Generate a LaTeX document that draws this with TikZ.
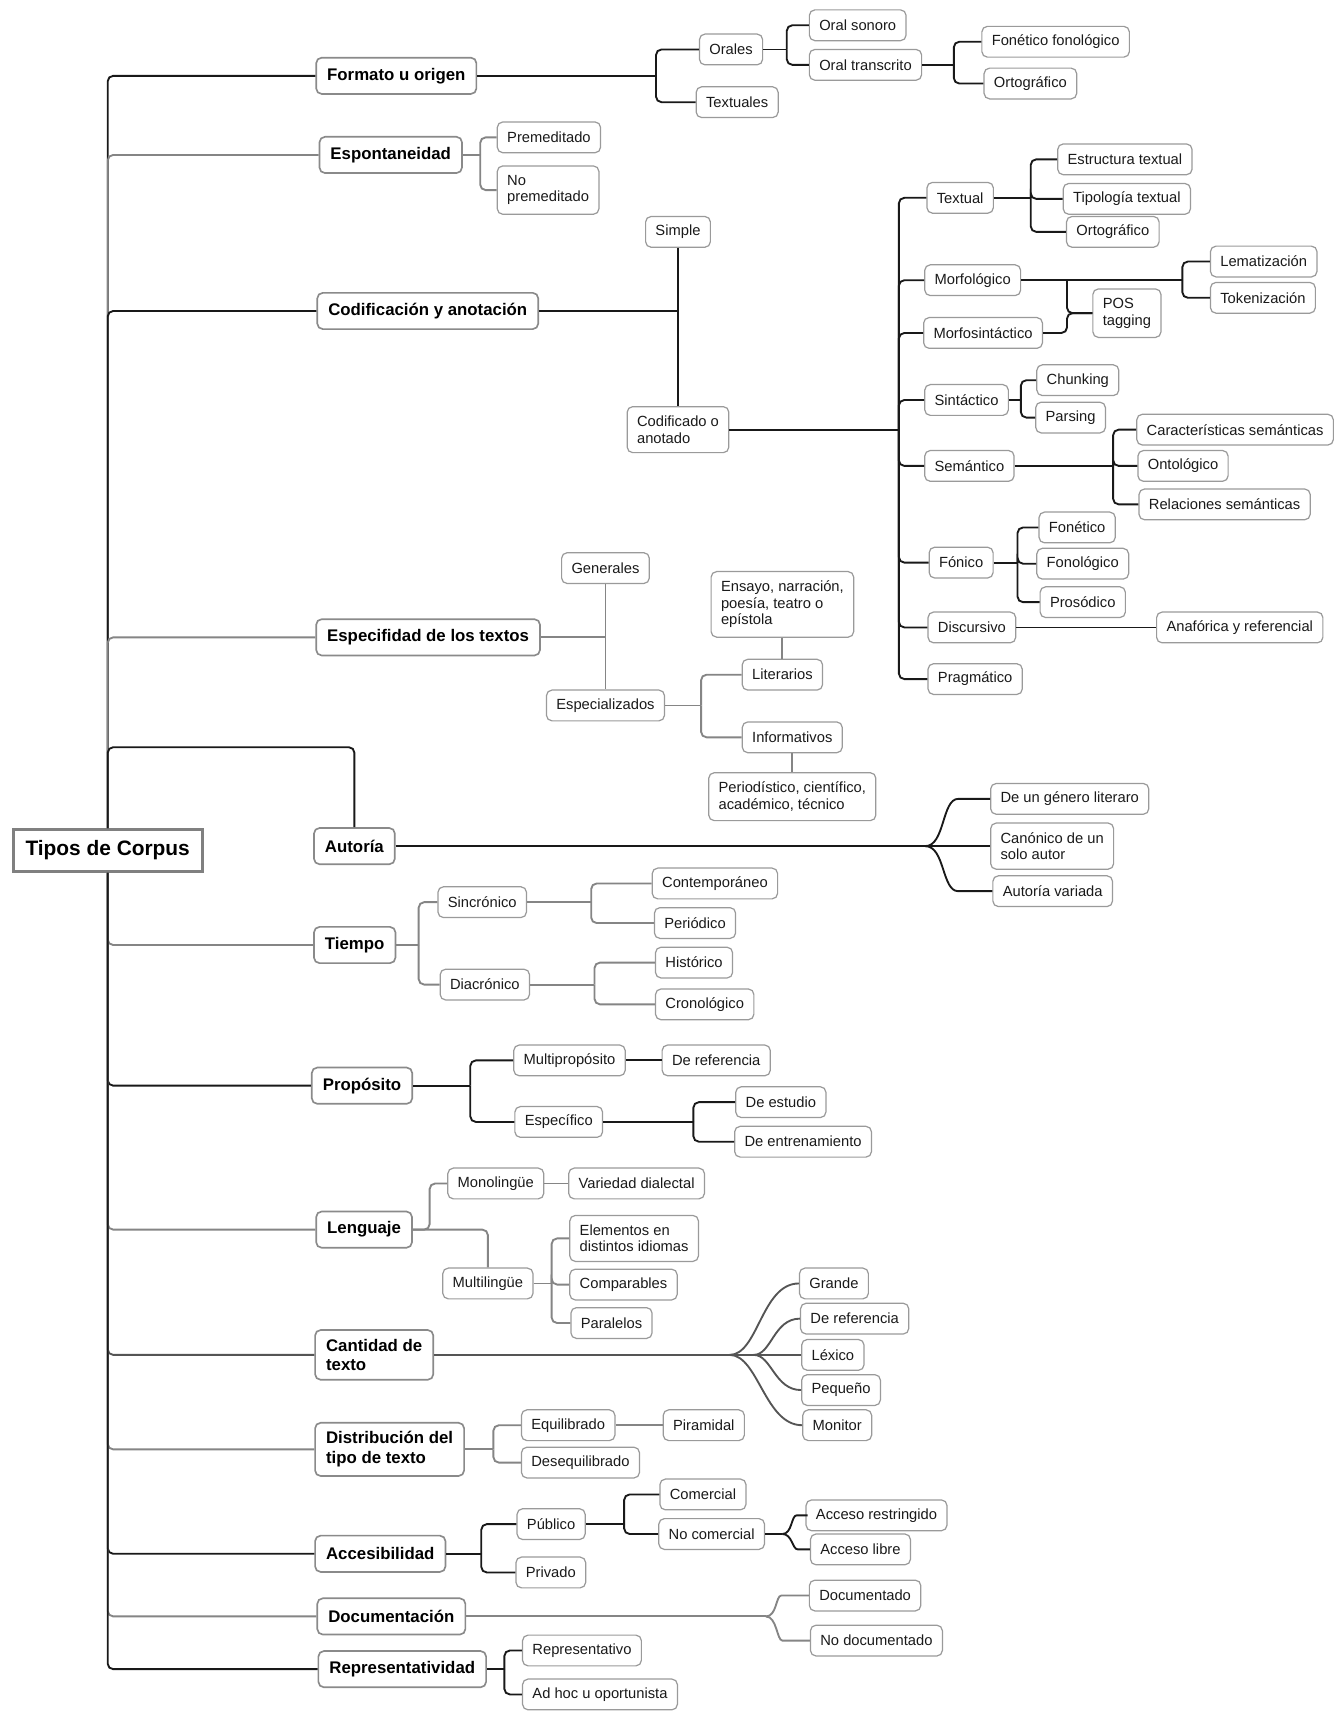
\documentclass[tikz,border=0pt]{standalone}
\usepackage{fontspec}
\setmainfont{Liberation Sans}
\usetikzlibrary{calc}
\definecolor{bx}{HTML}{9A9A9A}
\definecolor{bxm}{HTML}{8A8A8A}
\definecolor{gl}{HTML}{858585}
\definecolor{dg}{HTML}{555555}
\definecolor{tx}{HTML}{1A1A1A}
\tikzset{
 leaf/.style={draw=bx, line width=1.1pt, rounded corners=5pt, fill=white, text=tx,
   font=\fontsize{13.4}{15}\selectfont, inner xsep=9pt, inner ysep=6pt, minimum height=28pt,
   align=left, anchor=west},
 ml/.style={inner ysep=8.5pt},
 mainn/.style={draw=bxm, line width=1.5pt, rounded corners=5pt, fill=white, text=black,
   font=\bfseries\fontsize{15.3}{18}\selectfont, inner xsep=10pt, inner ysep=7pt,
   minimum height=33pt, align=left, anchor=west},
 rootn/.style={draw=gray, line width=2.6pt, fill=white, text=black,
   font=\bfseries\fontsize{19}{22}\selectfont, minimum width=172pt, minimum height=38pt},
 blk/.style={draw=black!90, line width=1.7pt, rounded corners=5pt},
 gry/.style={draw=gl, line width=1.7pt, rounded corners=5pt},
 dgy/.style={draw=dg, line width=1.7pt, rounded corners=5pt},
}
\newcommand{\fk}[4]{%
  \coordinate (tmpf) at (#3,0);
  \draw[#1] (#2.east) -- (#2.east -| tmpf);
  \foreach \kid in {#4}{\draw[#1] (#2.east -| tmpf) |- (\kid.west);}
}
\begin{document}
\begin{tikzpicture}[x=1pt,y=-1pt]
\fill[white] (0,0) rectangle (1223,1568);
\useasboundingbox (0,0) rectangle (1223,1568);

% root and main nodes
\node[rootn] (root) at (98,774) {Tipos de Corpus};
\node[mainn] (form) at (287,69) {Formato u origen};
\node[mainn] (espo) at (290,141) {Espontaneidad};
\node[mainn] (codi) at (288,283) {Codificación y anotación};
\node[mainn] (espe) at (287,580) {Especifidad de los textos};
\node[mainn] (auto) at (285,770) {Autoría};
\node[mainn] (tiem) at (285,860) {Tiempo};
\node[mainn] (prop) at (283,988) {Propósito};
\node[mainn] (leng) at (287,1119) {Lenguaje};
\node[mainn, inner ysep=8pt] (cant) at (286,1233) {Cantidad de\\texto};
\node[mainn, inner ysep=8pt] (dist) at (286,1319) {Distribución del\\tipo de texto};
\node[mainn] (acce) at (286,1414) {Accesibilidad};
\node[mainn] (docu) at (288,1471) {Documentación};
\node[mainn] (repr) at (289,1519) {Representatividad};

% trunk connectors
\coordinate (autop) at (0,680);
\draw[blk] (root.north) |- (form.west);
\draw[gry] (root.north) |- (espo.west);
\draw[blk] (root.north) |- (codi.west);
\draw[gry] (root.north) |- (espe.west);
\draw[blk] (root.north) -- (root.north |- autop) -| (auto.north);
\draw[gry] (root.south) |- (tiem.west);
\draw[blk] (root.south) |- (prop.west);
\draw[gry] (root.south) |- (leng.west);
\draw[dgy] (root.south) |- (cant.west);
\draw[gry] (root.south) |- (dist.west);
\draw[blk] (root.south) |- (acce.west);
\draw[gry] (root.south) |- (docu.west);
\draw[blk] (root.south) |- (repr.west);

% Formato
\node[leaf] (oral) at (636,45) {Orales};
\node[leaf] (text) at (633,93) {Textuales};
\node[leaf] (osono) at (736,23) {Oral sonoro};
\node[leaf] (otran) at (736,59) {Oral transcrito};
\node[leaf] (fono) at (893,38) {Fonético fonológico};
\node[leaf] (orto1) at (895,76) {Ortográfico};
\fk{blk}{form}{597}{oral,text}
\fk{blk}{oral}{716}{osono,otran}
\fk{blk}{otran}{868}{fono,orto1}

% Espontaneidad
\node[leaf] (preme) at (452,125) {Premeditado};
\node[leaf,ml] (nopre) at (452,173) {No\\premeditado};
\fk{gry}{espo}{437}{preme,nopre}

% Codificacion
\node[leaf, anchor=center] (simp) at (617,211) {Simple};
\node[leaf, ml, anchor=center] (coda) at (617,391) {Codificado o\\anotado};
\draw[blk] (codi.east) -- (codi.east -| simp.south);
\draw[blk] (simp.south) -- (coda.north);

\node[leaf] (txtl) at (843,180) {Textual};
\node[leaf] (morf) at (841,255) {Morfológico};
\node[leaf] (msin) at (840,303) {Morfosintáctico};
\node[leaf] (sint) at (841,364) {Sintáctico};
\node[leaf] (sema) at (841,424) {Semántico};
\node[leaf] (foni) at (845,512) {Fónico};
\node[leaf] (disc) at (844,571) {Discursivo};
\node[leaf] (prag) at (844,618) {Pragmático};
\fk{blk}{coda}{818}{txtl,morf,msin,sint,sema,foni,disc,prag}

\node[leaf] (estr) at (962,145) {Estructura textual};
\node[leaf] (tipo) at (967,181) {Tipología textual};
\node[leaf] (orto2) at (970,211) {Ortográfico};
\fk{blk}{txtl}{938}{estr,tipo,orto2}

\node[leaf] (lema) at (1101,238) {Lematización};
\node[leaf] (toke) at (1101,271) {Tokenización};
\node[leaf,ml] (post) at (994,285) {POS\\tagging};
\fk{blk}{morf}{1076}{lema,toke}
\coordinate (pfk) at (971,0);
\draw[blk] (morf.east -| pfk) |- (post.west);
\draw[blk] (msin.east) -- (msin.east -| pfk) |- (post.west);

\node[leaf] (chun) at (943,346) {Chunking};
\node[leaf] (pars) at (942,380) {Parsing};
\fk{blk}{sint}{929}{chun,pars}

\node[leaf] (cara) at (1034,391) {Características semánticas};
\node[leaf] (onto) at (1035,424) {Ontológico};
\node[leaf] (rela) at (1036,459) {Relaciones semánticas};
\fk{blk}{sema}{1013}{cara,onto,rela}

\node[leaf] (fnt) at (945,480) {Fonético};
\node[leaf] (fnl) at (943,513) {Fonológico};
\node[leaf] (pros) at (946,548) {Prosódico};
\fk{blk}{foni}{926}{fnt,fnl,pros}

\node[leaf] (anaf) at (1052,571) {Anafórica y referencial};
\draw[blk] (disc.east) -- (anaf.west);

% Especifidad
\node[leaf,anchor=center] (gene) at (551,517) {Generales};
\node[leaf,anchor=center] (espz) at (551,642) {Especializados};
\draw[gry] (espe.east) -- (espe.east -| gene.south);
\draw[gry] (gene.south) -- (espz.north);
\node[leaf,anchor=center] (lite) at (712,614) {Literarios};
\node[leaf,anchor=center] (info) at (721,671) {Informativos};
\node[leaf,ml,anchor=center] (ensa) at (712,550) {Ensayo, narración,\\poesía, teatro o\\epístola};
\node[leaf,ml,anchor=center] (peri) at (721,725) {Periodístico, científico,\\académico, técnico};
\fk{gry}{espz}{638}{lite,info}
\draw[gry] (ensa.south) -- (lite.north);
\draw[gry] (info.south) -- (peri.north);

% Autoria
\node[leaf] (genl) at (901,727) {De un género literaro};
\node[leaf,ml] (cano) at (901,770) {Canónico de un\\solo autor};
\node[leaf] (vari) at (903,811) {Autoría variada};
\coordinate (afk) at (842,0);
\draw[blk] (auto.east) -- (auto.east -| afk);
\draw[blk] (auto.east -| afk) -- (cano.west);
\draw[blk] (auto.east -| afk) .. controls +(18,0) and +(-20,0) .. ([xshift=-24]genl.west) -- (genl.west);
\draw[blk] (auto.east -| afk) .. controls +(18,0) and +(-20,0) .. ([xshift=-26]vari.west) -- (vari.west);

% Tiempo
\node[leaf] (sinc) at (398,821) {Sincrónico};
\node[leaf] (diac) at (400,896) {Diacrónico};
\fk{gry}{tiem}{381}{sinc,diac}
\node[leaf] (cont) at (593,804) {Contemporáneo};
\node[leaf] (peri2) at (595,840) {Periódico};
\fk{gry}{sinc}{538}{cont,peri2}
\node[leaf] (hist) at (596,876) {Histórico};
\node[leaf] (cron) at (596,914) {Cronológico};
\fk{gry}{diac}{541}{hist,cron}

% Proposito
\node[leaf] (mult) at (467,965) {Multipropósito};
\node[leaf] (espc) at (468,1021) {Específico};
\fk{blk}{prop}{428}{mult,espc}
\node[leaf] (dref) at (602,965) {De referencia};
\draw[blk] (mult.east) -- (dref.west);
\node[leaf] (estu) at (669,1003) {De estudio};
\node[leaf] (entr) at (668,1039) {De entrenamiento};
\fk{blk}{espc}{631}{estu,entr}

% Lenguaje
\node[leaf] (mono) at (407,1077) {Monolingüe};
\node[leaf,anchor=center] (mulg) at (444,1168) {Multilingüe};
\node[leaf] (vdia) at (517,1077) {Variedad dialectal};
\coordinate (lfk) at (391,0);
\draw[gry] (leng.east) -- (leng.east -| lfk) |- (mono.west);
\draw[gry] (leng.east) -| (mulg.north);
\draw[gry] (mono.east) -- (vdia.west);
\node[leaf,ml] (elem) at (518,1127) {Elementos en\\distintos idiomas};
\node[leaf] (comp) at (518,1169) {Comparables};
\node[leaf] (para) at (519,1204) {Paralelos};
\fk{gry}{mulg}{502}{elem,comp,para}

% Cantidad
\node[leaf] (gran) at (727,1168) {Grande};
\node[leaf] (dre2) at (728,1200) {De referencia};
\node[leaf] (lexi) at (729,1233) {Léxico};
\node[leaf] (pequ) at (729,1265) {Pequeño};
\node[leaf] (moni) at (730,1297) {Monitor};
\coordinate (cfa) at (664,0);
\coordinate (cfb) at (686,0);
\draw[dgy] (cant.east) -- (lexi.west);
\draw[dgy] (cant.east -| cfa) .. controls +(26,0) and +(-34,0) .. (gran.west);
\draw[dgy] (cant.east -| cfa) .. controls +(26,0) and +(-34,0) .. (moni.west);
\draw[dgy] (cant.east -| cfb) .. controls +(16,0) and +(-24,0) .. (dre2.west);
\draw[dgy] (cant.east -| cfb) .. controls +(16,0) and +(-24,0) .. (pequ.west);

% Distribucion
\node[leaf] (equi) at (474,1297) {Equilibrado};
\node[leaf] (dese) at (474,1331) {Desequilibrado};
\fk{gry}{dist}{449}{equi,dese}
\node[leaf] (pira) at (603,1297) {Piramidal};
\draw[gry] (equi.east) -- (pira.west);

% Accesibilidad
\node[leaf] (publ) at (470,1387) {Público};
\node[leaf] (priv) at (469,1431) {Privado};
\fk{blk}{acce}{438}{publ,priv}
\node[leaf] (come) at (600,1360) {Comercial};
\node[leaf] (ncom) at (599,1396) {No comercial};
\fk{blk}{publ}{568}{come,ncom}
\node[leaf] (ares) at (733,1379) {Acceso restringido};
\node[leaf] (alib) at (737,1410) {Acceso libre};
\coordinate (nfk) at (712,0);
\draw[blk] (ncom.east) -- (ncom.east -| nfk);
\draw[blk] (ncom.east -| nfk) .. controls +(9,0) and +(-10,0) .. ([xshift=-3]ares.west) -- (ares.west);
\draw[blk] (ncom.east -| nfk) .. controls +(9,0) and +(-10,0) .. ([xshift=-6]alib.west) -- (alib.west);

% Documentacion
\node[leaf] (docd) at (736,1452) {Documentado};
\node[leaf] (nodo) at (737,1493) {No documentado};
\coordinate (dfk) at (697,0);
\draw[gry] (docu.east) -- (docu.east -| dfk);
\draw[gry] (docu.east -| dfk) .. controls +(10,0) and +(-10,0) .. ([xshift=-20]docd.west) -- (docd.west);
\draw[gry] (docu.east -| dfk) .. controls +(10,0) and +(-10,0) .. ([xshift=-20]nodo.west) -- (nodo.west);

% Representatividad
\node[leaf] (rept) at (475,1502) {Representativo};
\node[leaf] (adho) at (475,1542) {Ad hoc u oportunista};
\fk{blk}{repr}{459}{rept,adho}
\end{tikzpicture}
\end{document}
